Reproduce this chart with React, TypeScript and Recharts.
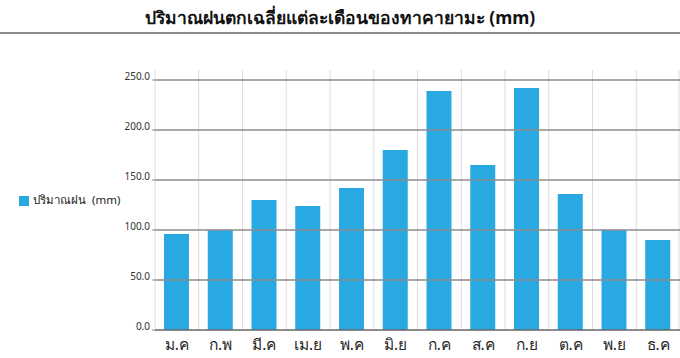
import { BarChart, Bar, XAxis, YAxis, CartesianGrid, Legend, ReferenceLine } from 'recharts';

// average monthly rainfall, Takayama (mm)
const months = ['ม.ค', 'ก.พ', 'มี.ค', 'เม.ย', 'พ.ค', 'มิ.ย', 'ก.ค', 'ส.ค', 'ก.ย', 'ต.ค', 'พ.ย', 'ธ.ค'];
const rainfall = [96, 100, 130, 124, 142, 180, 239, 165, 242, 136, 100, 90];
const yTicks = [0, 50, 100, 150, 200, 250];

const title = 'ปริมาณฝนตกเฉลี่ยแต่ละเดือนของทาคายามะ (mm)';
const seriesName = 'ปริมาณฝน  (mm)';

const chartData = months.map((m, i) => ({ month: m, rain: rainfall[i] }));

const font = '"Noto Sans", "DejaVu Sans", sans-serif';

export default function App() {
  return (
    <div style={{ position: 'absolute', left: 0, top: 0, width: 680, height: 358, background: '#fff', fontFamily: font }}>
      <div
        style={{
          position: 'absolute', left: 0, top: 6, width: 680, textAlign: 'center',
          fontSize: 17.5, fontWeight: 'bold', color: '#111', lineHeight: '22px',
        }}
      >
        {title}
      </div>
      <div style={{ position: 'absolute', left: 0, top: 32, width: 680, height: 2, background: '#8c8c8c' }} />
      <BarChart width={680} height={358} data={chartData} margin={{ top: 70, right: 0, bottom: 0, left: 0 }}>
        <CartesianGrid
          horizontal={false}
          stroke="#dcdcdc"
          verticalCoordinatesGenerator={({ offset }: any) =>
            months.map((_, i) => offset.left + (i * offset.width) / months.length).concat(offset.left + offset.width - 1)
          }
        />
        <XAxis
          dataKey="month"
          height={28}
          axisLine={false}
          tickLine={false}
          tick={{ fill: '#2a2a2a', fontSize: 15.5, fontFamily: font }}
          tickMargin={3}
        />
        <YAxis
          width={155}
          domain={[0, 260]}
          ticks={yTicks}
          axisLine={false}
          tickSize={3}
          tickMargin={2}
          tickLine={{ stroke: '#8c8c8c' }}
          tickFormatter={(v: number) => v.toFixed(1)}
          tick={{ fill: '#333', fontSize: 10, fontFamily: font, dy: -4 }}
        />
        <Legend
          layout="horizontal"
          verticalAlign="middle"
          align="center"
          iconType="square"
          iconSize={10}
          wrapperStyle={{ left: 19, top: 191, width: 'auto', fontSize: 11.5, color: '#222' }}
          formatter={(value: string) => <span style={{ color: '#222', whiteSpace: 'pre' }}>{value}</span>}
        />
        <Bar dataKey="rain" name={seriesName} fill="#29a9e1" barSize={25} isAnimationActive={false} />
        {yTicks.map((t) => (
          <ReferenceLine key={t} y={t} stroke={t === 0 ? '#666' : '#8c8c8c'} strokeWidth={1.5} />
        ))}
      </BarChart>
    </div>
  );
}
